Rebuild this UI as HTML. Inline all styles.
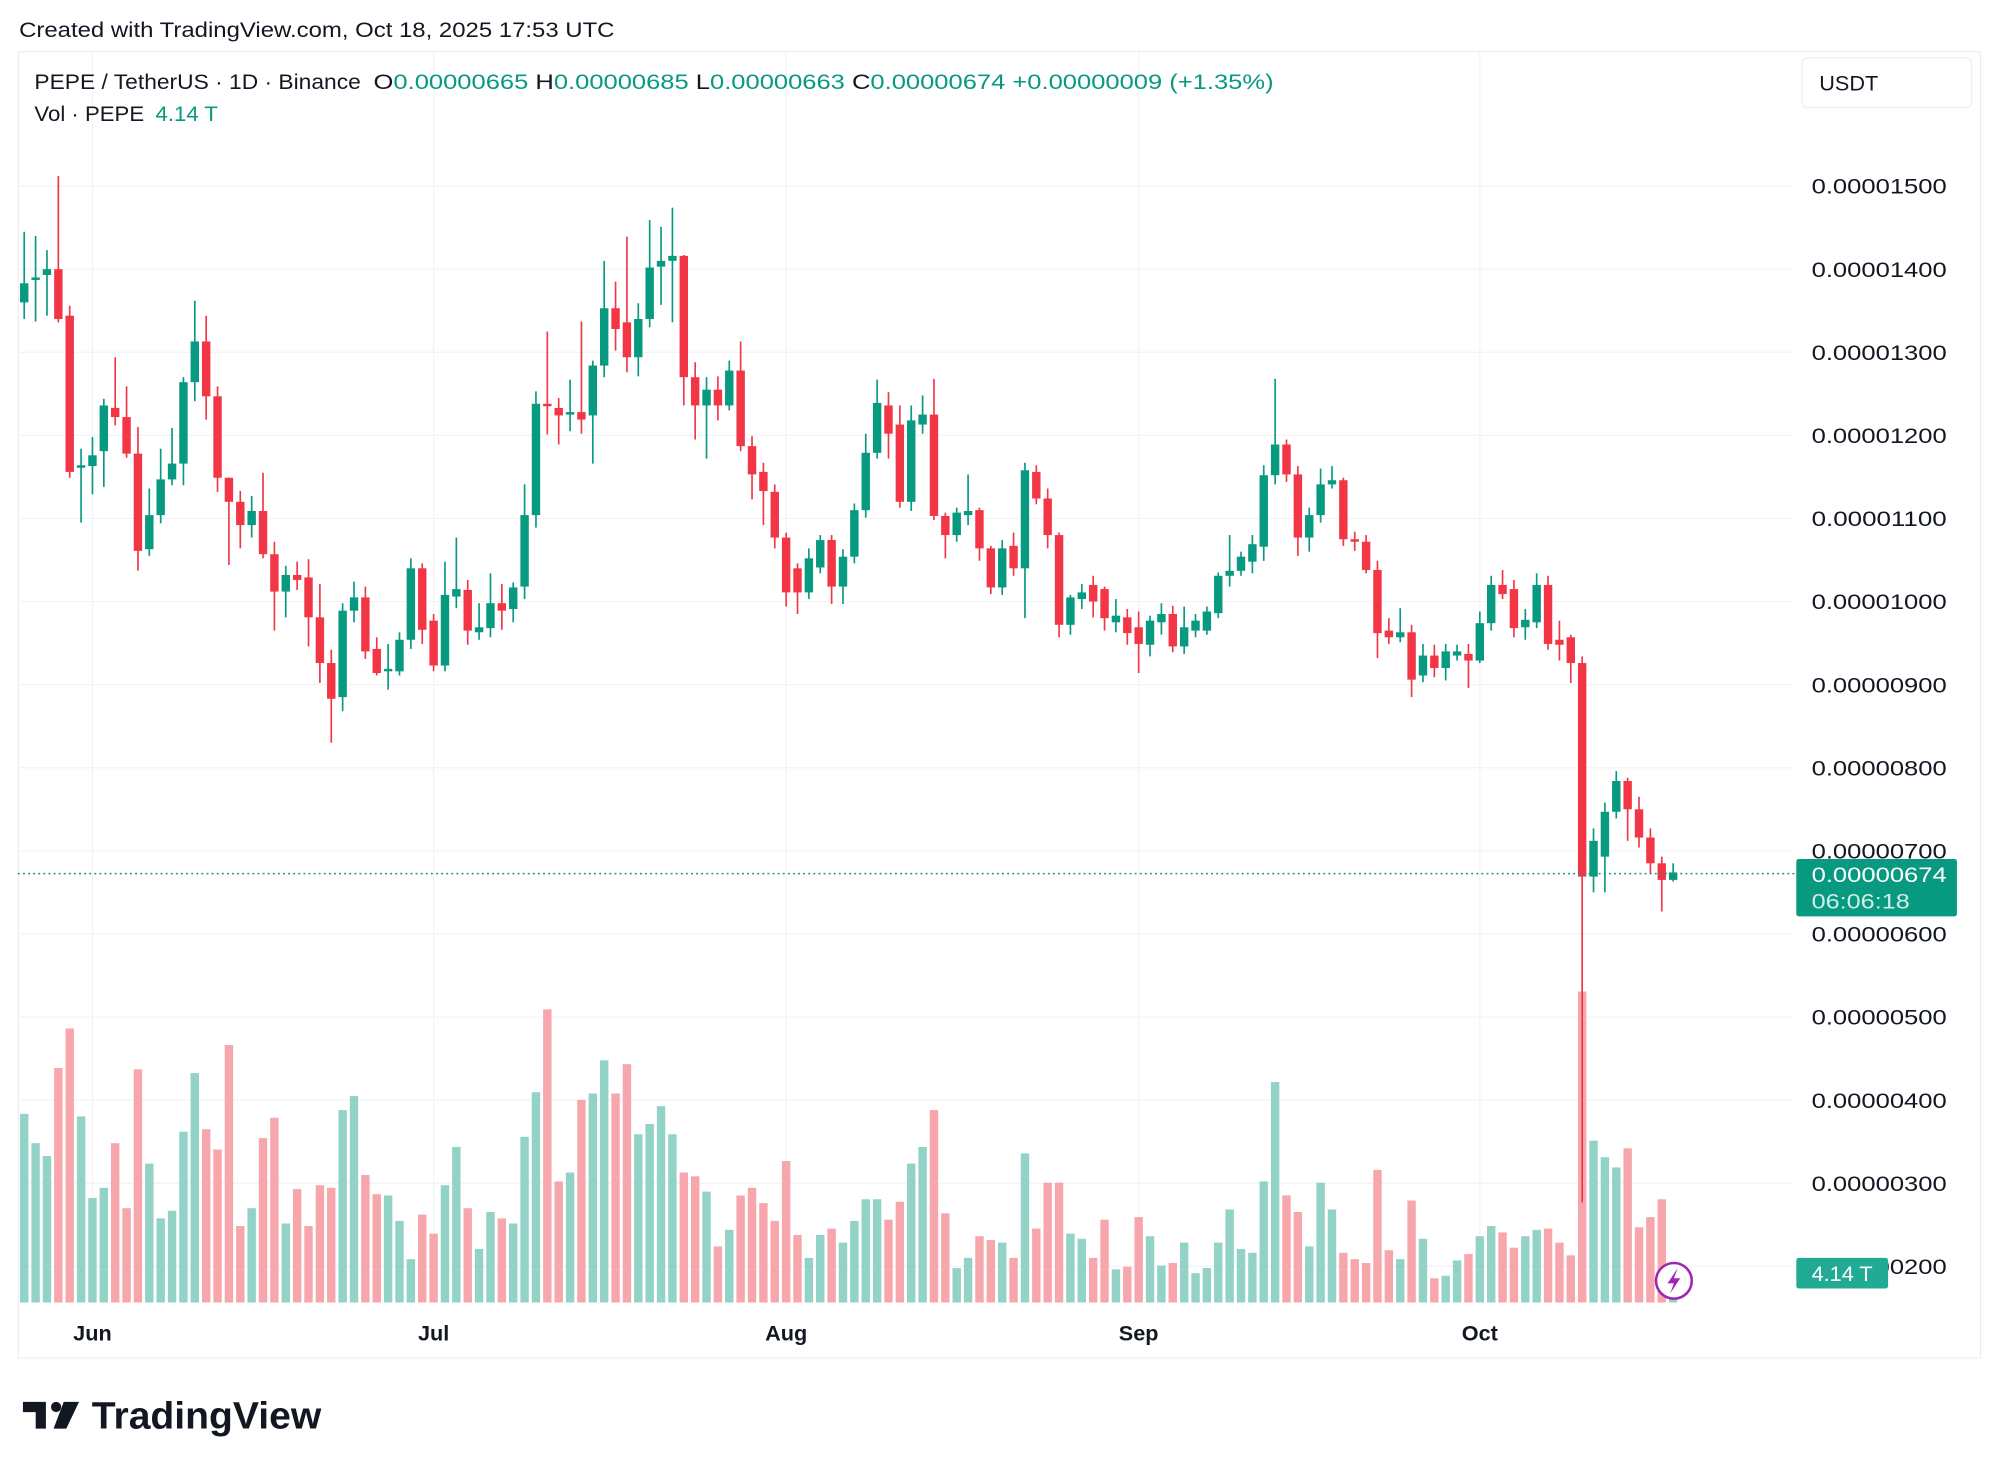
<!DOCTYPE html>
<html><head><meta charset="utf-8"><style>
html,body{margin:0;padding:0;background:#fff;}
svg{display:block;font-family:"Liberation Sans",sans-serif;}
</style></head><body>
<svg id="chart" width="1999" height="1472" viewBox="0 0 1568 1155" preserveAspectRatio="none" xmlns="http://www.w3.org/2000/svg">
<rect x="0" y="0" width="1568" height="1155" fill="#fff"/>
<text x="15" y="29" font-size="17" fill="#131722" textLength="467" lengthAdjust="spacingAndGlyphs">Created with TradingView.com, Oct 18, 2025 17:53 UTC</text>
<rect x="14.5" y="40.5" width="1539" height="1025" fill="none" stroke="#eceef2"/>
<g id="grid"></g>
<g id="vols"></g>
<g id="candles"></g>
<line x1="14" x2="1408" y1="685.5" y2="685.5" stroke="#089981" stroke-width="1.2" stroke-dasharray="1.5,2.5"/>
<g id="yaxis"></g>
<g id="xaxis"></g>
<text x="27" y="70" font-size="17" fill="#131722" textLength="256" lengthAdjust="spacingAndGlyphs">PEPE / TetherUS · 1D · Binance</text>
<text x="293" y="70" font-size="17" fill="#089981" textLength="706" lengthAdjust="spacingAndGlyphs"><tspan fill="#131722">O</tspan>0.00000665 <tspan fill="#131722">H</tspan>0.00000685 <tspan fill="#131722">L</tspan>0.00000663 <tspan fill="#131722">C</tspan>0.00000674 +0.00000009 (+1.35%)</text>
<text x="27" y="95" font-size="17" fill="#131722" textLength="144" lengthAdjust="spacingAndGlyphs">Vol · PEPE <tspan fill="#089981" dx="4">4.14 T</tspan></text>
<g>
<rect x="1413.5" y="45.5" width="133" height="39" rx="4" fill="#fff" stroke="#eceef2"/>
<text x="1427" y="71" font-size="17" fill="#131722">USDT</text>
</g>
<g>
<rect x="1409" y="674" width="126" height="45" rx="2" fill="#089981"/>
<text x="1421" y="692" font-size="17" fill="#fff" textLength="106" lengthAdjust="spacingAndGlyphs">0.00000674</text>
<text x="1421" y="713" font-size="17" fill="#cfeee8" textLength="77" lengthAdjust="spacingAndGlyphs">06:06:18</text>
</g>
<g>
<rect x="1409" y="987" width="72" height="24" rx="2" fill="#22ab94"/>
<text x="1421" y="1005" font-size="17" fill="#fff">4.14 T</text>
</g>
<g>
<circle cx="1313" cy="1005" r="14" fill="#fff" stroke="#9c27b0" stroke-width="2"/>
<path d="M1316 995 L1308 1007 L1313 1007 L1310 1015 L1318 1003 L1313 1003 Z" fill="#9c27b0"/>
</g>
<g>
<path d="M18 1100 H36 V1121 H28 V1108 H18 Z" fill="#131722"/>
<circle cx="44" cy="1104" r="4" fill="#131722"/>
<path d="M50 1100 H62 L52 1121 H42 Z" fill="#131722"/>
<text x="72" y="1121" font-size="30" font-weight="bold" fill="#131722" textLength="180" lengthAdjust="spacingAndGlyphs">TradingView</text>
</g>
</svg>
<script>
const opens=[1360,1387,1393,1400,1344,1161,1163,1181,1233,1222,1178,1063,1104,1147,1166,1264,1313,1247,1149,1120,1092,1109,1057,1012,1032,1029,981,926,885,989,1005,943,916,916,954,1040,977,923,1006,1014,963,968,998,991,1018,1104,1238,1233,1225,1228,1224,1284,1353,1336,1294,1340,1403,1410,1416,1270,1236,1255,1236,1278,1187,1156,1132,1077,1040,1011,1041,1074,1018,1054,1110,1179,1236,1213,1120,1213,1225,1103,1080,1104,1110,1064,1017,1067,1040,1156,1124,1080,972,1003,1020,1015,975,981,969,948,975,985,946,965,965,986,1031,1037,1048,1066,1152,1189,1153,1077,1104,1141,1146,1075,1072,1038,965,957,963,911,935,920,935,937,929,974,1020,1015,969,975,1020,954,957,926,669,693,747,784,750,716,685,665];
const highs=[1445,1440,1423,1512,1356,1184,1198,1244,1294,1259,1210,1136,1184,1209,1270,1362,1344,1259,1149,1133,1127,1155,1072,1043,1048,1051,1021,942,998,1024,1018,957,949,963,1052,1046,985,1048,1077,1026,998,1034,1021,1023,1141,1253,1325,1245,1267,1337,1290,1410,1385,1439,1359,1459,1451,1474,1417,1288,1270,1271,1290,1313,1199,1167,1141,1083,1046,1064,1080,1080,1063,1118,1202,1267,1252,1236,1236,1248,1268,1107,1113,1153,1113,1067,1074,1083,1167,1164,1136,1083,1008,1021,1031,1018,1003,991,988,983,998,995,994,985,994,1035,1080,1060,1080,1164,1268,1195,1163,1113,1160,1163,1149,1084,1080,1049,980,992,972,949,948,949,948,949,988,1031,1038,1026,991,1034,1031,977,960,934,727,758,796,788,765,727,693,685];
const lows=[1340,1337,1344,1336,1149,1095,1129,1138,1212,1173,1037,1055,1094,1140,1140,1241,1219,1132,1044,1064,1077,1052,965,981,1014,946,902,830,868,975,931,911,894,911,943,949,916,916,992,948,954,957,966,975,1003,1089,1201,1189,1205,1202,1166,1270,1302,1276,1271,1330,1357,1336,1236,1195,1172,1218,1230,1181,1123,1092,1064,994,985,1003,1034,997,997,1046,1101,1172,1172,1113,1109,1202,1098,1052,1072,1092,1049,1009,1008,1031,980,1117,1064,957,960,991,981,965,963,948,914,934,960,939,937,957,960,980,1018,1031,1034,1049,1141,1144,1055,1060,1095,1136,1067,1061,1034,932,949,951,885,903,909,905,929,896,926,965,1003,957,954,968,942,929,902,277,650,650,739,712,704,673,627,663];
const closes=[1383,1390,1400,1340,1156,1164,1176,1236,1222,1178,1061,1104,1147,1166,1264,1313,1247,1149,1120,1092,1109,1057,1012,1032,1026,981,926,883,989,1005,940,914,919,954,1040,966,923,1008,1015,965,969,998,989,1017,1104,1238,1235,1224,1228,1219,1284,1353,1328,1294,1340,1402,1410,1416,1270,1236,1255,1236,1278,1187,1153,1133,1077,1011,1011,1052,1074,1018,1054,1110,1179,1239,1202,1120,1218,1225,1103,1080,1107,1109,1064,1017,1064,1040,1158,1124,1080,972,1005,1011,1000,980,983,962,949,977,985,946,969,977,988,1031,1037,1054,1069,1152,1189,1153,1077,1104,1141,1146,1075,1072,1038,962,957,963,906,935,920,940,940,929,974,1020,1009,968,978,1020,949,948,926,669,712,747,784,750,716,685,665,674];
const volumes=[148,125,115,184,215,146,82,90,125,74,183,109,66,72,134,180,136,120,202,60,74,129,145,62,89,60,92,90,151,162,100,85,84,64,34,69,54,92,122,74,42,71,66,62,130,165,230,95,102,159,164,190,164,187,132,140,154,132,102,99,87,44,57,84,90,78,64,111,53,35,53,58,47,64,81,81,65,79,109,122,151,70,27,35,52,49,47,35,117,58,94,94,54,50,35,65,26,28,67,52,29,31,47,23,27,47,73,42,39,95,173,84,71,44,94,73,39,34,31,104,41,34,80,50,19,21,33,38,52,60,55,43,52,57,58,47,37,244,127,114,106,121,59,67,81,24];
const priceTicks=[1500,1400,1300,1200,1100,1000,900,800,700,600,500,400,300,200];
const monthLabels=["Jun","Jul","Aug","Sep","Oct"];
const monthIndex=[6,36,67,98,128];

const NS="http://www.w3.org/2000/svg";
const X0=19, STEP=8.92;
function xScale(i){return X0+i*STEP;}
function yScale(p){return 146+(1500-p)*0.652;}
function vScale(v){return 1022-v;}
function mk(tag,attrs,parent){const e=document.createElementNS(NS,tag);for(const k in attrs)e.setAttribute(k,attrs[k]);parent.appendChild(e);return e;}

const grid=document.getElementById('grid');
const yaxis=document.getElementById('yaxis');
priceTicks.forEach(t=>{
  const y=yScale(t);
  const gl=mk('line',{x1:14,x2:1406,y1:y,y2:y,stroke:'#f2f3f6','stroke-width':1},grid);
  
  
  const lbl=mk('text',{x:1421,y:y+6,'font-size':17,fill:'#131722',textLength:106,lengthAdjust:'spacingAndGlyphs'},yaxis);
  
  
  lbl.textContent=(t/1e8).toFixed(8);
});
const xaxis=document.getElementById('xaxis');
monthLabels.forEach((m,k)=>{
  const x=xScale(monthIndex[k]);
  const gl=mk('line',{x1:x,x2:x,y1:41,y2:1022,stroke:'#f2f3f6','stroke-width':1},grid);
  
  
  const lbl=mk('text',{x:x,y:1052,'font-size':17,'font-weight':'bold','text-anchor':'middle',fill:'#131722'},xaxis);
  
  
  lbl.textContent=m;
});
const vols=document.getElementById('vols');
const cg=document.getElementById('candles');
const W=6.6;
for(let i=0;i<closes.length;i++){
  const up=closes[i]>=opens[i];
  const x=xScale(i);
  const vb=mk('rect',{x:x-W/2,y:vScale(volumes[i]),width:W,height:1022-vScale(volumes[i]),fill:up?'#92d2c7':'#f7a7ab'},vols);
  
  
  const col=up?'#089981':'#f23645';
  const g=mk('g',{},cg);
  
  
  mk('line',{x1:x,x2:x,y1:yScale(highs[i]),y2:yScale(lows[i]),stroke:col,'stroke-width':1.3},g);
  const top=yScale(Math.max(opens[i],closes[i])),bot=yScale(Math.min(opens[i],closes[i]));
  mk('rect',{x:x-W/2,y:top,width:W,height:Math.max(1.3,bot-top),fill:col},g);
}
</script>
</body></html>
